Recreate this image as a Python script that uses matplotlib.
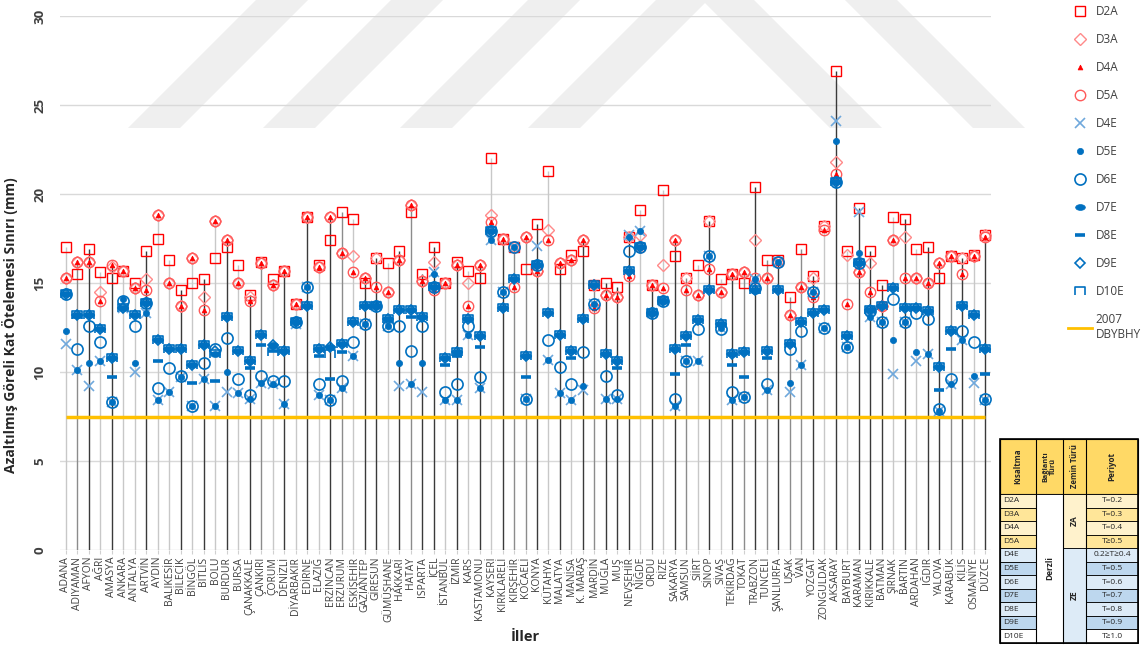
import numpy as np
import matplotlib
matplotlib.use("Agg")
import matplotlib.pyplot as plt
from matplotlib.path import Path
from matplotlib.patches import Polygon, Rectangle
from matplotlib.lines import Line2D
from matplotlib.transforms import Affine2D

plt.rcParams['font.family'] = ['Open Sans', 'DejaVu Sans']

# ---------------------------------------------------------------- data
provinces = [
    "ADANA", "ADIYAMAN", "AFYON", "AĞRI", "AMASYA", "ANKARA", "ANTALYA", "ARTVİN",
    "AYDIN", "BALIKESİR", "BİLECİK", "BİNGÖL", "BİTLİS", "BOLU", "BURDUR", "BURSA",
    "ÇANAKKALE", "ÇANKIRI", "ÇORUM", "DENİZLİ", "DİYARBAKIR", "EDİRNE", "ELAZIĞ",
    "ERZİNCAN", "ERZURUM", "ESKİŞEHİR", "GAZİANTEP", "GİRESUN", "GÜMÜŞHANE", "HAKKARİ",
    "HATAY", "ISPARTA", "İÇEL", "İSTANBUL", "İZMİR", "KARS", "KASTAMONU", "KAYSERİ",
    "KIRKLARELİ", "KIRŞEHİR", "KOCAELİ", "KONYA", "KÜTAHYA", "MALATYA", "MANİSA",
    "K. MARAŞ", "MARDİN", "MUĞLA", "MUŞ", "NEVŞEHİR", "NİĞDE", "ORDU", "RİZE",
    "SAKARYA", "SAMSUN", "SİİRT", "SİNOP", "SİVAS", "TEKİRDAĞ", "TOKAT", "TRABZON",
    "TUNCELİ", "ŞANLIURFA", "UŞAK", "VAN", "YOZGAT", "ZONGULDAK", "AKSARAY", "BAYBURT",
    "KARAMAN", "KIRIKKALE", "BATMAN", "ŞIRNAK", "BARTIN", "ARDAHAN", "IĞDIR", "YALOVA",
    "KARABÜK", "KİLİS", "OSMANİYE", "DÜZCE",
]

d2a = [17.0, 15.5, 16.9, 15.6, 15.3, 15.7, 15.0, 16.8, 17.5, 16.3,
       14.6, 15.0, 15.2, 16.4, 17.0, 16.0, 14.3, 16.2, 15.2, 15.7,
       13.8, 18.7, 16.0, 17.4, 19.0, 18.6, 15.0, 16.4, 16.1, 16.8,
       19.0, 15.5, 17.0, 15.0, 16.2, 15.7, 15.3, 22.0, 17.5, 17.0,
       15.8, 18.3, 21.3, 15.8, 16.6, 16.8, 14.9, 15.0, 14.8, 17.6,
       19.1, 14.9, 20.2, 16.5, 15.3, 16.0, 18.5, 15.2, 15.5, 15.0,
       20.4, 16.3, 16.3, 14.2, 16.9, 15.4, 18.2, 26.9, 16.8, 19.2,
       16.8, 14.9, 18.7, 18.6, 16.9, 17.0, 15.3, 16.5, 16.4, 16.6, 17.7]

d3a = [15.3, 16.2, 16.2, 14.5, 15.9, 15.7, 14.7, 15.2, 18.8, 15.0,
       13.7, 16.4, 14.2, 18.5, 17.4, 15.0, 14.2, 16.1, 14.9, 15.7,
       13.8, 18.7, 15.9, 18.7, 16.7, 16.5, 15.3, 16.4, 14.5, 16.3,
       19.4, 15.1, 16.2, 15.0, 16.0, 15.0, 16.0, 18.8, 17.5, 17.0,
       17.6, 15.7, 18.0, 16.1, 16.3, 17.4, 14.9, 14.3, 14.2, 17.6,
       17.7, 14.9, 16.0, 17.4, 15.3, 14.3, 18.5, 14.5, 15.5, 15.6,
       17.4, 15.3, 16.2, 13.2, 14.8, 15.3, 18.2, 21.8, 16.6, 15.6,
       16.1, 13.7, 17.4, 17.6, 15.3, 15.0, 16.1, 16.5, 16.4, 16.5, 17.7]

d4a = [15.3, 16.2, 16.2, 14.0, 16.0, 15.7, 14.7, 14.6, 18.8, 15.0,
       13.7, 16.4, 13.5, 18.5, 17.4, 15.0, 14.0, 16.1, 14.9, 15.7,
       13.8, 18.7, 15.9, 18.7, 16.7, 15.6, 15.3, 14.8, 14.5, 16.3,
       19.4, 15.1, 14.6, 15.0, 16.0, 13.7, 16.0, 18.4, 17.5, 14.8,
       17.6, 15.7, 17.4, 16.1, 16.3, 17.4, 13.6, 14.3, 14.2, 15.4,
       17.0, 14.9, 14.7, 17.4, 14.6, 14.3, 15.8, 14.5, 15.5, 15.6,
       15.2, 15.3, 16.2, 13.2, 14.8, 14.2, 18.0, 21.1, 13.8, 15.6,
       14.5, 13.7, 17.4, 15.3, 15.3, 15.0, 16.1, 16.5, 15.5, 16.5, 17.6]

d5a = [15.3, 16.2, 16.2, 14.0, 16.0, 15.7, 14.7, 14.6, 18.8, 15.0,
       13.7, 16.4, 13.5, 18.5, 17.4, 15.0, 14.0, 16.1, 14.9, 15.7,
       13.8, 18.7, 15.9, 18.7, 16.7, 15.6, 15.3, 14.8, 14.5, 16.3,
       19.4, 15.1, 14.6, 15.0, 16.0, 13.7, 16.0, 18.4, 17.5, 14.8,
       17.6, 15.7, 17.4, 16.1, 16.3, 17.4, 13.6, 14.3, 14.2, 15.4,
       17.0, 14.9, 14.7, 17.4, 14.6, 14.3, 15.8, 14.5, 15.5, 15.6,
       15.3, 15.3, 16.2, 13.2, 14.8, 14.2, 18.0, 21.1, 13.8, 15.6,
       14.5, 13.7, 17.4, 15.3, 15.3, 15.0, 16.1, 16.5, 15.5, 16.5, 17.6]

d4e = [11.6, 10.1, 9.2, 10.6, 8.3, 13.6, 10.0, 13.3, 8.4, 8.9,
       9.7, 8.1, 9.6, 8.1, 8.9, 8.8, 8.5, 9.4, 9.3, 8.2,
       12.7, 14.8, 8.7, 8.4, 9.1, 10.9, 12.7, 13.7, 12.6, 9.2,
       9.3, 8.9, 15.6, 8.4, 8.4, 12.1, 9.1, 17.4, 14.5, 17.0,
       8.5, 17.1, 10.7, 8.8, 8.4, 9.0, 13.8, 8.5, 8.5, 17.7,
       17.9, 13.3, 14.0, 8.1, 10.6, 10.6, 16.5, 12.5, 8.4, 8.6,
       15.2, 9.0, 16.2, 8.9, 10.4, 14.5, 12.5, 24.1, 11.4, 19.0,
       13.1, 12.8, 9.9, 12.8, 10.6, 11.0, 7.8, 9.3, 11.8, 9.4, 8.4]

d5e = [12.3, 10.1, 10.5, 10.6, 8.3, 14.1, 10.5, 13.3, 8.4, 8.9,
       9.7, 8.1, 9.6, 8.1, 10.0, 8.8, 8.5, 9.4, 9.3, 8.2,
       12.8, 14.8, 8.7, 8.4, 9.1, 10.9, 12.7, 13.7, 12.6, 10.5,
       9.3, 10.5, 15.5, 8.4, 8.4, 12.1, 9.1, 17.4, 14.5, 17.0,
       8.5, 16.0, 10.7, 8.8, 8.4, 9.2, 13.8, 8.5, 8.5, 17.6,
       17.9, 13.3, 14.0, 8.1, 10.6, 10.6, 16.5, 12.5, 8.4, 8.6,
       15.2, 9.0, 16.2, 9.4, 10.4, 14.5, 12.5, 23.0, 11.4, 16.7,
       13.1, 12.8, 11.8, 12.8, 11.1, 11.0, 7.8, 9.3, 11.8, 9.8, 8.4]

d6e = [14.4, 11.3, 12.6, 11.7, 8.3, 14.0, 12.6, 13.9, 9.1, 10.2,
       9.8, 8.1, 10.5, 11.3, 11.9, 9.6, 8.7, 9.8, 9.5, 9.5,
       12.8, 14.8, 9.3, 8.4, 9.5, 11.7, 12.7, 13.7, 12.6, 12.6,
       11.2, 12.6, 14.8, 8.9, 9.3, 12.6, 9.7, 17.9, 14.5, 17.0,
       8.5, 16.0, 11.8, 10.3, 9.3, 11.1, 13.8, 9.8, 8.7, 16.8,
       17.0, 13.3, 14.0, 8.5, 10.6, 12.4, 16.5, 12.4, 8.9, 8.6,
       14.7, 9.3, 16.2, 11.3, 12.3, 14.5, 12.5, 20.7, 11.4, 16.1,
       13.4, 12.8, 14.1, 12.8, 13.3, 13.0, 7.9, 9.6, 12.3, 11.7, 8.5]

d7e = [14.4, 13.2, 13.2, 12.4, 10.8, 13.6, 13.2, 13.9, 11.8, 11.3,
       11.3, 10.4, 11.5, 11.0, 13.1, 11.2, 10.6, 12.1, 11.5, 11.2,
       12.8, 13.7, 11.3, 11.4, 11.6, 12.8, 13.7, 13.7, 13.0, 13.5,
       13.5, 13.1, 14.8, 10.8, 11.1, 13.0, 12.0, 17.9, 13.6, 15.2,
       10.9, 16.0, 13.3, 12.1, 11.2, 13.0, 14.9, 11.0, 10.6, 15.7,
       17.0, 13.3, 14.0, 11.3, 12.0, 12.9, 14.6, 12.7, 11.0, 11.1,
       14.6, 11.2, 14.6, 11.6, 12.8, 13.3, 13.5, 20.7, 12.0, 16.1,
       13.5, 13.7, 14.7, 13.6, 13.6, 13.4, 10.3, 12.3, 13.7, 13.2, 11.3]

d8e = [14.4, 13.1, 13.2, 12.4, 9.7, 13.6, 13.2, 13.9, 10.6, 11.3,
       11.3, 9.4, 11.5, 9.5, 13.1, 11.2, 10.2, 11.5, 11.2, 11.2,
       12.8, 13.7, 10.9, 9.6, 11.1, 12.8, 13.7, 13.7, 13.0, 13.5,
       13.1, 13.1, 14.8, 10.4, 10.9, 13.0, 11.4, 17.9, 13.6, 15.2,
       9.7, 16.0, 13.3, 12.1, 10.8, 13.0, 14.9, 11.0, 10.2, 15.7,
       17.0, 13.3, 14.0, 9.9, 11.5, 12.9, 14.6, 12.7, 10.4, 9.7,
       14.6, 10.8, 14.6, 11.6, 12.8, 13.3, 13.5, 20.7, 12.0, 16.1,
       13.5, 13.7, 14.7, 13.6, 13.6, 13.4, 9.0, 11.3, 13.7, 13.2, 9.9]

d9e = [14.4, 13.2, 13.2, 12.4, 10.8, 13.6, 13.2, 13.9, 11.8, 11.3,
       11.3, 10.4, 11.5, 11.2, 13.1, 11.2, 10.6, 12.1, 11.5, 11.2,
       12.8, 13.7, 11.3, 11.4, 11.6, 12.8, 13.7, 13.7, 13.0, 13.5,
       13.5, 13.1, 14.8, 10.8, 11.1, 13.0, 12.0, 17.9, 13.6, 15.2,
       10.9, 16.0, 13.3, 12.1, 11.2, 13.0, 14.9, 11.0, 10.6, 15.7,
       17.0, 13.3, 14.0, 11.3, 12.0, 12.9, 14.6, 12.7, 11.0, 11.1,
       14.6, 11.2, 14.6, 11.6, 12.8, 13.3, 13.5, 20.7, 12.0, 16.1,
       13.5, 13.7, 14.7, 13.6, 13.6, 13.4, 10.3, 12.3, 13.7, 13.2, 11.3]

d10e = [14.4, 13.2, 13.2, 12.4, 10.8, 13.6, 13.2, 13.9, 11.8, 11.3,
        11.3, 10.4, 11.5, 11.0, 13.1, 11.2, 10.6, 12.1, 11.1, 11.2,
        12.8, 13.7, 11.3, 11.0, 11.6, 12.8, 13.7, 13.7, 13.0, 13.5,
        13.5, 13.1, 14.8, 10.8, 11.1, 13.0, 12.0, 17.9, 13.6, 15.2,
        10.9, 16.0, 13.3, 12.1, 11.2, 13.0, 14.9, 11.0, 10.6, 15.7,
        17.0, 13.3, 14.0, 11.3, 12.0, 12.9, 14.6, 12.7, 11.0, 11.1,
        14.6, 11.2, 14.6, 11.6, 12.8, 13.3, 13.5, 20.7, 12.0, 16.1,
        13.5, 13.7, 14.7, 13.6, 13.6, 13.4, 10.3, 12.3, 13.7, 13.2, 11.3]

dbybhy_limit = 7.5  # 2007 DBYBHY drift limit (mm)

# grey tone of each province's drop line (0 light, 1 medium, 2 dark)
stem_tone = [0, 1, 2, 0, 2, 0, 0, 2, 0, 0,
             2, 0, 2, 0, 2, 0, 2, 1, 0, 2,
             0, 2, 0, 2, 1, 0, 2, 2, 0, 2,
             1, 2, 2, 0, 2, 0, 2, 0, 2, 1,
             1, 2, 0, 2, 0, 2, 1, 2, 2, 2,
             0, 2, 0, 2, 1, 0, 2, 0, 2, 1,
             2, 1, 2, 1, 1, 2, 0, 2, 0, 2,
             2, 2, 0, 2, 0, 2, 2, 1, 2, 0, 2]

table_codes = ["D2A", "D3A", "D4A", "D5A", "D4E", "D5E", "D6E", "D7E", "D8E", "D9E", "D10E"]
table_periods = ["T=0.2", "T=0.3", "T=0.4", "T≥0.5", "0.2≥T≥0.4", "T=0.5", "T=0.6",
                 "T=0.7", "T=0.8", "T=0.9", "T≥1.0"]

# ---------------------------------------------------------------- markers
ellipse = Path.unit_circle().transformed(Affine2D().scale(1.0, 0.6))
cap = Path([(-1, -0.75), (-1, 0.75), (1, 0.75), (1, -0.75)],
           [Path.MOVETO, Path.LINETO, Path.LINETO, Path.LINETO])

RED = '#FF0000'
BLUE = '#0070C0'
series = [
    ("D2A", d2a, dict(marker='s', ms=7, mfc='none', mec=RED, mew=1.0)),
    ("D3A", d3a, dict(marker='D', ms=6, mfc='none', mec='#FF8A8A', mew=1.0)),
    ("D4A", d4a, dict(marker='^', ms=3.5, mfc=RED, mec=RED, mew=0.5)),
    ("D5A", d5a, dict(marker='o', ms=7.5, mfc='none', mec='#FF5A5A', mew=1.0)),
    ("D4E", d4e, dict(marker='x', ms=7, mec='#6FA8DC', mew=1.2)),
    ("D5E", d5e, dict(marker='o', ms=4.5, mfc=BLUE, mec=BLUE, mew=0.5)),
    ("D6E", d6e, dict(marker='o', ms=8, mfc='none', mec=BLUE, mew=1.2)),
    ("D7E", d7e, dict(marker=ellipse, ms=7, mfc=BLUE, mec=BLUE, mew=0.5)),
    ("D8E", d8e, dict(marker='_', ms=7, mec=BLUE, mew=2.6)),
    ("D9E", d9e, dict(marker='D', ms=5, mfc='none', mec=BLUE, mew=1.2)),
    ("D10E", d10e, dict(marker=cap, ms=7, mfc='none', mec=BLUE, mew=1.2)),
]

# ---------------------------------------------------------------- figure
W, H = 1142, 653
fig = plt.figure(figsize=(W / 100, H / 100), dpi=100)

# background stripes of the institutional watermark
bg = fig.add_axes([0, 0, 1, 1], zorder=0)
bg.set_xlim(0, W)
bg.set_ylim(H, 0)
bg.axis('off')
for x0 in (128, 263, 400, 528):
    bg.add_patch(Polygon([(x0, 128), (x0 + 52, 128), (x0 + 52 + 140, -12), (x0 + 140, -12)],
                         closed=True, facecolor='#efefef', edgecolor='none'))
for x0 in (830, 973):
    bg.add_patch(Polygon([(x0, 128), (x0 + 52, 128), (x0 + 52 - 140, -12), (x0 - 140, -12)],
                         closed=True, facecolor='#efefef', edgecolor='none'))

ax = fig.add_axes([60 / W, 1 - 550 / H, 931 / W, 534 / H], zorder=1)
ax.set_facecolor('none')

n = len(provinces)
x = np.arange(n)
all_vals = np.array([s[1] for s in series])
tops = all_vals.max(axis=0)

tone_colors = {0: '#c8c8c8', 1: '#8c8c8c', 2: '#3a3a3a'}
ax.vlines(x, 0, tops, colors=[tone_colors[t] for t in stem_tone], lw=1.0, zorder=2)

ax.plot(x, np.full(n, dbybhy_limit), color='#FFC000', lw=2.5, zorder=3,
        solid_capstyle='butt')

for name, vals, kw in series:
    ax.plot(x, vals, linestyle='none', zorder=4, **kw)

ax.set_xlim(-0.5, n - 0.5)
ax.set_ylim(0, 30)
ax.set_yticks(np.arange(0, 31, 5))
ax.yaxis.grid(True, color='#d9d9d9', lw=1.0)
ax.set_axisbelow(True)
for sp in ax.spines.values():
    sp.set_visible(False)

ax.set_xticks(x)
ax.set_xticklabels(provinces, rotation=90, fontsize=7.5, color='#404040')
ax.tick_params(axis='x', length=3, color='#d0d0d0', pad=2)
ax.tick_params(axis='y', length=0, pad=10, labelsize=9.5, labelcolor='#404040',
               labelrotation=90)
for lab in ax.get_yticklabels():
    lab.set_fontweight('bold')
    lab.set_va('center')

ax.set_ylabel("Azaltılmış Göreli Kat Ötelemesi Sınırı (mm)", fontsize=10,
              fontweight='bold', color='#262626')
ax.yaxis.set_label_coords(-0.045, 0.421)
ax.set_xlabel("İller", fontsize=10.5, fontweight='bold', color='#262626')
ax.xaxis.set_label_coords(0.5, -0.15)

# legend on the right
handles = []
for name, vals, kw in series:
    handles.append(Line2D([], [], linestyle='none', **kw))
handles.append(Line2D([], [], color='#FFC000', lw=2.0))
labels = [s[0] for s in series] + ["2007\nDBYBHY"]
fig.legend(handles, labels, loc='upper left', bbox_to_anchor=(1062 / W, 1 + 1 / H),
           frameon=False, fontsize=8.5, labelspacing=1.27, handlelength=2.0,
           handletextpad=0.35, borderpad=0.0, labelcolor='#404040')

# description table in the lower right corner
tb = fig.add_axes([0, 0, 1, 1], zorder=3)
tb.set_xlim(0, W)
tb.set_ylim(H, 0)
tb.axis('off')
cols = [1000, 1036, 1063, 1086, 1138]
top, head_bot, bot = 439, 494, 643
row_h = (bot - head_bot) / len(table_codes)
yel_light, yel_dark = '#FFF2CC', '#FFE699'
blu_light, blu_dark = '#DDEBF7', '#BDD7EE'
row_fill = [yel_light, yel_dark, yel_light, yel_dark,
            blu_light, blu_dark, blu_light, blu_dark, blu_light, blu_dark, '#FFFFFF']

tb.add_patch(Rectangle((cols[0], top), cols[-1] - cols[0], head_bot - top,
                       facecolor='#FFD966', edgecolor='black', lw=0.8))
head_txt = ["Kısaltma", "Bağlantı\nTürü", "Zemin Türü", "Periyot"]
head_size = [5.8, 5.3, 5.6, 5.8]
for i, t in enumerate(head_txt):
    tb.add_line(Line2D([cols[i], cols[i]], [top, bot], color='black', lw=0.8))
    tb.text((cols[i] + cols[i + 1]) / 2, (top + head_bot) / 2, t, rotation=90,
            ha='center', va='center', multialignment='center', fontsize=head_size[i],
            fontweight='bold', color='#262626', linespacing=0.95)

for r, (code, per) in enumerate(zip(table_codes, table_periods)):
    y0 = head_bot + r * row_h
    for c in (0, 3):
        tb.add_patch(Rectangle((cols[c], y0), cols[c + 1] - cols[c], row_h,
                               facecolor=row_fill[r], edgecolor='black', lw=0.6))
    tb.text(cols[0] + 3, y0 + row_h / 2, code, ha='left', va='center',
            fontsize=6, color='#262626')
    tb.text((cols[3] + cols[4]) / 2, y0 + row_h / 2, per, ha='center', va='center',
            fontsize=6, color='#262626')

# merged cells
tb.add_patch(Rectangle((cols[1], head_bot), cols[2] - cols[1], bot - head_bot,
                       facecolor='white', edgecolor='black', lw=0.6))
tb.text((cols[1] + cols[2]) / 2, (head_bot + bot) / 2, "Derzli", rotation=90,
        ha='center', va='center', fontsize=6, fontweight='bold', color='#262626')
za_bot = head_bot + 4 * row_h
tb.add_patch(Rectangle((cols[2], head_bot), cols[3] - cols[2], za_bot - head_bot,
                       facecolor=yel_light, edgecolor='black', lw=0.6))
tb.add_patch(Rectangle((cols[2], za_bot), cols[3] - cols[2], bot - za_bot,
                       facecolor=blu_light, edgecolor='black', lw=0.6))
tb.text((cols[2] + cols[3]) / 2, (head_bot + za_bot) / 2, "ZA", rotation=90,
        ha='center', va='center', fontsize=6, fontweight='bold', color='#262626')
tb.text((cols[2] + cols[3]) / 2, (za_bot + bot) / 2, "ZE", rotation=90,
        ha='center', va='center', fontsize=6, fontweight='bold', color='#262626')
tb.add_patch(Rectangle((cols[0], top), cols[-1] - cols[0], bot - top,
                       facecolor='none', edgecolor='black', lw=1.2))

fig.savefig("out.png", dpi=100)
